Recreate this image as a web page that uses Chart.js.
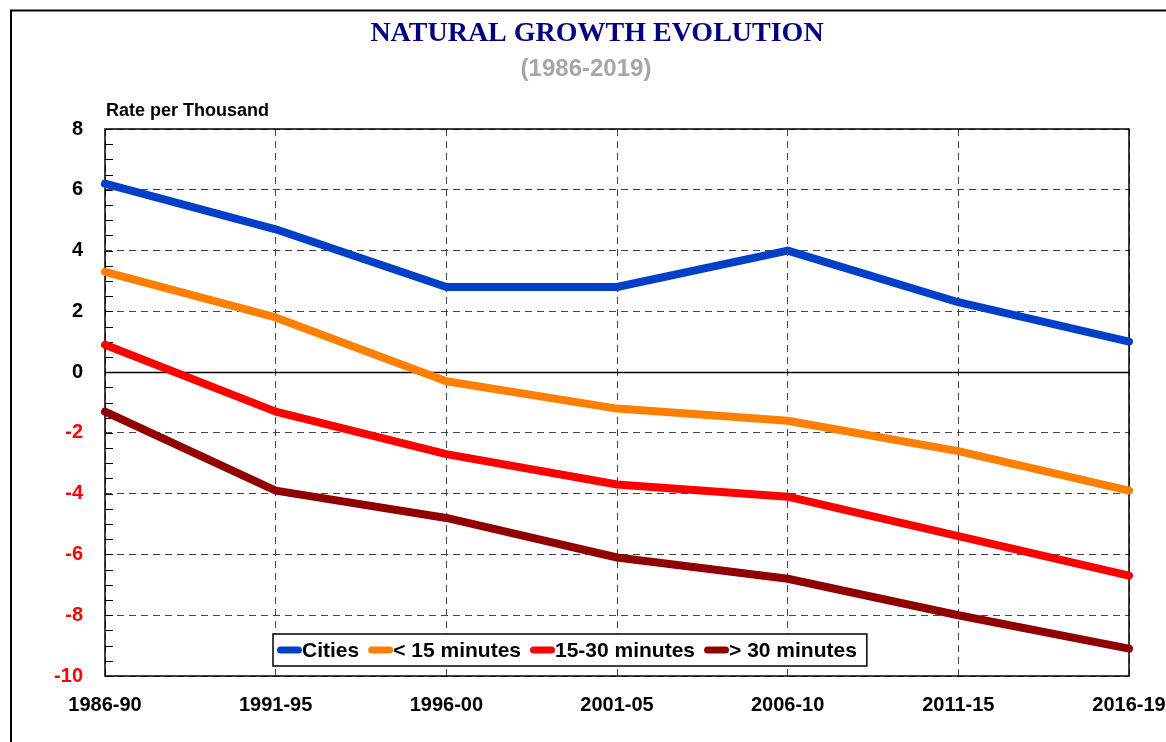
<!DOCTYPE html>
<html>
<head>
<meta charset="utf-8">
<title>Natural Growth Evolution</title>
<script src="https://cdn.jsdelivr.net/npm/chart.js@4.4.1/dist/chart.umd.min.js"></script>
<style>
    body { margin: 0; background: #fff; }
    canvas { display: block; }
</style>
</head>
<body>
<canvas id="growthChart" width="1166" height="742"></canvas>
<script>
// periods on the x axis
const periods = ['1986-90', '1991-95', '1996-00', '2001-05', '2006-10', '2011-15', '2016-19'];

// rate per thousand
const cities = [6.2, 4.7, 2.8, 2.8, 4.0, 2.3, 1.0];
const under15 = [3.3, 1.8, -0.3, -1.2, -1.6, -2.6, -3.9];
const from15to30 = [0.9, -1.3, -2.7, -3.7, -4.1, -5.4, -6.7];
const over30 = [-1.3, -3.9, -4.8, -6.1, -6.8, -8.0, -9.1];

const seriesNames = ['Cities', '< 15 minutes', '15-30 minutes', '> 30 minutes'];
const seriesColors = ['#0040c8', '#ff8000', '#ff0000', '#900000'];

// y axis range
const yMin = -10;
const yMax = 8;
const yStep = 2;
const yMinorStep = 0.5;

const FONT = '"Liberation Sans", Arial, sans-serif';

// frame, zero line and minor ticks
const framePlugin = {
    id: 'frame',
    beforeDatasetsDraw(chart) {
        const { ctx, chartArea: a, scales: { y } } = chart;
        ctx.save();
        ctx.strokeStyle = '#000';

        // zero line
        ctx.lineWidth = 1.5;
        const y0 = Math.round(y.getPixelForValue(0)) + 0.5;
        ctx.beginPath();
        ctx.moveTo(a.left, y0);
        ctx.lineTo(a.right, y0);
        ctx.stroke();

        // minor ticks on the left axis
        ctx.lineWidth = 1;
        for (let v = yMin; v <= yMax; v += yMinorStep) {
            const py = Math.round(y.getPixelForValue(v)) + 0.5;
            ctx.beginPath();
            ctx.moveTo(a.left, py);
            ctx.lineTo(a.left + 8, py);
            ctx.stroke();
        }

        // plot box
        ctx.lineWidth = 1.5;
        ctx.strokeRect(a.left, a.top, a.right - a.left, a.bottom - a.top);
        ctx.restore();
    },
    afterDraw(chart) {
        const { ctx } = chart;
        ctx.save();

        // outer border
        ctx.strokeStyle = '#000';
        ctx.lineWidth = 2;
        ctx.beginPath();
        ctx.moveTo(11, 760);
        ctx.lineTo(11, 10.5);
        ctx.lineTo(1180, 10.5);
        ctx.stroke();

        // titles
        ctx.textAlign = 'center';
        ctx.textBaseline = 'alphabetic';
        ctx.fillStyle = '#000080';
        ctx.font = 'bold 28px "Liberation Serif", "Times New Roman", serif';
        ctx.fillText('NATURAL GROWTH EVOLUTION', 597, 41);
        ctx.fillStyle = '#a6a6a6';
        ctx.font = 'bold 24px ' + FONT;
        ctx.fillText('(1986-2019)', 586, 76);

        ctx.textAlign = 'left';
        ctx.fillStyle = '#000';
        ctx.font = 'bold 18px ' + FONT;
        ctx.fillText('Rate per Thousand', 106, 116);

        // legend inside the plot
        ctx.font = 'bold 21px ' + FONT;
        const boxX = 273, boxY = 634, boxH = 32;
        let x = boxX + 4;
        const items = chart.data.datasets.map(ds => {
            const item = { x: x, label: ds.label, color: ds.borderColor };
            x += 25 + ctx.measureText(ds.label).width + 9;
            return item;
        });
        const boxW = x - 9 + 10 - boxX;
        ctx.fillStyle = '#fff';
        ctx.fillRect(boxX, boxY, boxW, boxH);
        ctx.lineWidth = 1.5;
        ctx.strokeStyle = '#000';
        ctx.strokeRect(boxX, boxY, boxW, boxH);

        const cy = boxY + boxH / 2;
        ctx.lineCap = 'round';
        ctx.lineWidth = 7;
        ctx.textBaseline = 'middle';
        items.forEach(it => {
            ctx.strokeStyle = it.color;
            ctx.beginPath();
            ctx.moveTo(it.x + 3.5, cy);
            ctx.lineTo(it.x + 21.5, cy);
            ctx.stroke();
            ctx.fillStyle = '#000';
            ctx.fillText(it.label, it.x + 25, cy + 1);
        });
        ctx.restore();
    }
};

function makeDataset(label, data, color) {
    return {
        label: label,
        data: data,
        borderColor: color,
        backgroundColor: color,
        borderWidth: 8,
        borderCapStyle: 'round',
        borderJoinStyle: 'round',
        pointRadius: 0,
        pointHoverRadius: 0,
        tension: 0,
        clip: false
    };
}

const ctx = document.getElementById('growthChart').getContext('2d');
new Chart(ctx, {
    type: 'line',
    data: {
        labels: periods,
        datasets: [
            makeDataset(seriesNames[0], cities, seriesColors[0]),
            makeDataset(seriesNames[1], under15, seriesColors[1]),
            makeDataset(seriesNames[2], from15to30, seriesColors[2]),
            makeDataset(seriesNames[3], over30, seriesColors[3])
        ]
    },
    options: {
        responsive: false,
        animation: false,
        layout: {
            padding: { top: 129, right: 37, bottom: 0, left: 0 }
        },
        plugins: {
            legend: { display: false },
            title: { display: false },
            tooltip: { enabled: false }
        },
        scales: {
            x: {
                type: 'category',
                offset: false,
                grid: {
                    color: '#444',
                    lineWidth: 1,
                    drawTicks: false,
                    offset: false
                },
                border: { display: false, dash: [7, 5] },
                ticks: {
                    color: '#000',
                    padding: 0,
                    maxRotation: 0,
                    autoSkip: false,
                    font: { family: FONT, size: 20, weight: 'bold', lineHeight: '58px' }
                },
                afterFit(scale) { scale.height = 66; }
            },
            y: {
                min: yMin,
                max: yMax,
                grid: {
                    color: '#444',
                    lineWidth: 1,
                    drawTicks: false
                },
                border: { display: false, dash: [7, 5] },
                ticks: {
                    stepSize: yStep,
                    padding: 22,
                    color: c => c.tick.value < 0 ? '#ff0000' : '#000',
                    font: { family: FONT, size: 20, weight: 'bold' }
                },
                afterFit(scale) { scale.width = 105; }
            }
        }
    },
    plugins: [framePlugin]
});
</script>
</body>
</html>
